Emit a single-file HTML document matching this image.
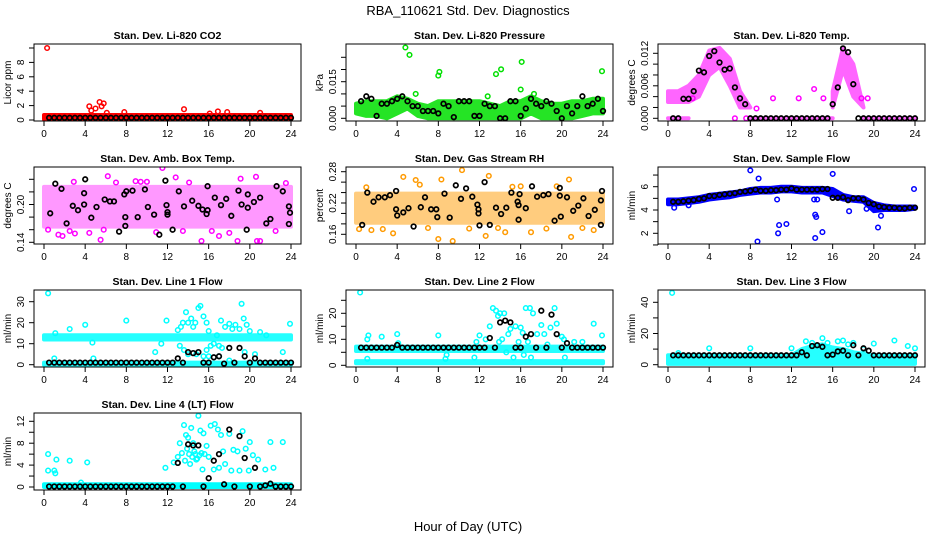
<!DOCTYPE html>
<html><head><meta charset="utf-8"><style>
html,body{margin:0;padding:0;background:#fff;}
svg{display:block;font-family:"Liberation Sans",sans-serif;}
</style></head><body>
<svg id="chart" width="936" height="540" viewBox="0 0 936 540" xmlns="http://www.w3.org/2000/svg">
<rect width="936" height="540" fill="#fff"/>
<text x="468" y="15" text-anchor="middle" font-size="13">RBA_110621  Std. Dev. Diagnostics</text>
<text x="468" y="531" text-anchor="middle" font-size="13">Hour of Day (UTC)</text>
</svg>
<script>
const hours=[0,1,2,3,4,5,6,7,8,9,10,11,12,13,14,15,16,17,18,19,20,21,22,23,24];
const halfHours=[0.5,1,1.5,2,2.5,3,3.5,4,4.5,5,5.5,6,6.5,7,7.5,8,8.5,9,9.5,10,10.5,11,11.5,12,12.5,13,13.5,14,14.5,15,15.5,16,16.5,17,17.5,18,18.5,19,19.5,20,20.5,21,21.5,22,22.5,23,23.5,24];
const xTicks=[0,4,8,12,16,20,24];

// CO2
const co2Lo=[0.1,0.1,0.1,0.1,0.1,0.1,0.1,0.1,0.1,0.1,0.1,0.1,0.1,0.1,0.1,0.1,0.1,0.1,0.1,0.1,0.1,0.1,0.1,0.1,0.1];
const co2Hi=[0.7,0.7,0.7,0.7,0.7,0.7,0.7,0.7,0.7,0.7,0.7,0.7,0.7,0.7,0.7,0.7,0.7,0.7,0.7,0.7,0.7,0.7,0.7,0.7,0.7];
const co2OutX=[0.3,4.4,4.6,5.0,5.4,5.6,5.8,6.1,7.8,13.6,16.1,16.9,17.8,21.0];
const co2OutY=[10,1.9,1.3,1.6,2.5,1.9,2.3,1.0,1.1,1.5,0.9,1.2,1.1,1.0];
const co2Black=[0.3,0.3,0.3,0.3,0.3,0.3,0.3,0.3,0.3,0.3,0.3,0.3,0.3,0.3,0.3,0.3,0.3,0.3,0.3,0.3,0.3,0.3,0.3,0.3,0.3,0.3,0.3,0.3,0.3,0.3,0.3,0.3,0.3,0.3,0.3,0.3,0.3,0.3,0.3,0.3,0.3,0.3,0.3,0.3,0.3,0.3,0.3,0.3];

// Pressure
const presLo=[0.002,0.001,0.001,0.000,0.002,0.004,0.001,0.000,0.000,0.000,0.000,0.000,0.000,0.000,0.000,0.000,0.000,0.002,0.000,0.000,0.000,0.000,0.001,0.002,0.002];
const presHi=[0.006,0.007,0.007,0.007,0.009,0.008,0.006,0.005,0.007,0.007,0.007,0.007,0.007,0.006,0.005,0.007,0.007,0.009,0.007,0.006,0.006,0.007,0.007,0.008,0.008];
const presOutX=[4.8,5.2,8.0,8.1,13.6,14.1,16.1,16.0,23.9,5.8,17.3,12.8];
const presOutY=[0.029,0.026,0.0175,0.019,0.0181,0.0201,0.0231,0.0118,0.0193,0.010,0.010,0.009];
const presBlack=[0.007,0.009,0.008,0.001,0.006,0.006,0.007,0.008,0.009,0.007,0.005,0.005,0.003,0.003,0.003,0.002,0.006,0.005,0.0005,0.007,0.007,0.007,0.001,0.001,0.006,0.005,0.005,0,0,0.007,0.007,0.001,0.004,0.008,0.006,0.005,0.007,0.006,0.003,0,0.005,0.002,0.005,0.009,0.005,0.006,0.008,0.003];

// Temp
const tempLo=[0.003,0.003,0.003,0.004,0.008,0.0095,0.006,0.002,0.002,null,null,null,null,null,null,null,0.002,0.009,0.004,0.002,null,null,null,null,null];
const tempHi=[0.005,0.005,0.006,0.008,0.0125,0.013,0.011,0.005,0.002,null,null,null,null,null,null,null,0.005,0.013,0.010,0.002,null,null,null,null,null];
const tempZeroLo=[0,0,0,null,null,null,null,null,0,0,0,0,0,0,0,0,0,null,null,0,0,0,0,0,0];
const tempZeroHi=[0,0,0,null,null,null,null,null,0,0,0,0,0,0,0,0,0,null,null,0,0,0,0,0,0];
const tempOutX=[6.5,7.6,10.2,12.7,14.2,15.1,8.6,2.4,18.8,19.4];
const tempOutY=[0,0,0.0037,0.0037,0.0054,0.0037,0.0018,0.0037,0.0037,0.0037];
const tempBlack=[0,0,0.0036,0.0036,0.005,0.0088,0.0085,0.0115,0.0124,0.0103,0.009,0.0092,0.0057,0.0037,0.0026,0,0,0,0,0,0,0,0,0,0,0,0,0,0,0,0,0.0026,0.0057,0.0129,0.0122,0.0063,0,0,0,0,0,0,0,0,0,0,0,0];

// Amb box temp
const ambLo=[0.165,0.165,0.165,0.165,0.165,0.165,0.165,0.165,0.165,0.165,0.165,0.165,0.165,0.165,0.165,0.165,0.165,0.165,0.165,0.165,0.165,0.165,0.165,0.165,0.165];
const ambHi=[0.228,0.228,0.228,0.228,0.228,0.228,0.228,0.228,0.228,0.228,0.228,0.228,0.228,0.228,0.228,0.228,0.228,0.228,0.228,0.228,0.228,0.228,0.228,0.228,0.228];
const ambOutX=[11.5,6.2,20.6,12.8,19.1,1.4,5.5,15.3,18.8,20.7,21.0,1.8,3.0,10.9,17.0,2.9,8.9,14.1,9.4,4.4,0.4,2.5,7.0,13.5,16.3,22.5,23.5,5.8,18.0,10.0];
const ambOutY=[0.258,0.245,0.244,0.243,0.241,0.152,0.144,0.142,0.142,0.142,0.142,0.15,0.154,0.156,0.15,0.236,0.237,0.235,0.236,0.155,0.16,0.158,0.235,0.158,0.158,0.158,0.234,0.16,0.155,0.236];
const ambBlackX=[0.6,1.1,1.7,2.2,2.8,3.3,3.9,3.9,4.0,4.6,5.1,5.9,6.4,6.8,7.3,7.8,7.9,7.9,8.0,8.6,9.1,9.8,10.1,10.7,11.2,11.8,11.9,12,12.0,12.5,13.1,13.6,14.4,15.0,15.4,15.8,15.9,15.9,16.6,17.2,17.7,18.2,18.9,19.2,19.7,19.8,19.8,20.4,21.0,21.6,22.0,22.6,23.2,23.8,23.8,23.9];
const ambBlackY=[0.186,0.233,0.225,0.17,0.198,0.191,0.218,0.2,0.24,0.179,0.196,0.208,0.205,0.205,0.157,0.216,0.166,0.18,0.221,0.222,0.18,0.224,0.196,0.184,0.152,0.238,0.199,0.188,0.184,0.16,0.221,0.197,0.206,0.198,0.192,0.185,0.191,0.229,0.211,0.199,0.209,0.182,0.222,0.2,0.16,0.195,0.216,0.204,0.211,0.17,0.177,0.229,0.221,0.169,0.197,0.187];

// RH
const rhLo=[0.182,0.182,0.182,0.182,0.182,0.182,0.182,0.182,0.182,0.182,0.182,0.182,0.182,0.182,0.182,0.182,0.182,0.182,0.182,0.182,0.182,0.182,0.182,0.182,0.182];
const rhHi=[0.238,0.238,0.238,0.238,0.238,0.238,0.238,0.238,0.238,0.238,0.238,0.238,0.238,0.238,0.238,0.238,0.238,0.238,0.238,0.238,0.238,0.238,0.238,0.238,0.238];
const rhOutX=[10.3,4.6,12.9,9.4,8.0,12.6,20.9,17.0,5.8,20.7,8.3,3.6,1.5,14.5,23.1,1.0,6.2,16.0,0.3,2.6,7.0,11.0,13.8,18.5,22.0,19.5,15.2];
const rhOutY=[0.283,0.27,0.272,0.147,0.151,0.157,0.155,0.164,0.264,0.265,0.265,0.162,0.168,0.164,0.168,0.25,0.255,0.252,0.17,0.17,0.172,0.171,0.172,0.171,0.172,0.252,0.251];
const rhBlackX=[0.6,1.1,1.7,2.2,2.8,3.3,3.9,3.9,4.0,4.6,5.1,5.6,6.3,6.7,7.3,7.8,7.9,8.6,9.1,9.7,10.2,10.7,11.3,11.8,11.9,11.9,12,12.5,13.0,13.6,14.1,14.6,15.1,15.7,15.8,15.8,15.9,16.5,17.1,17.6,18.2,18.7,19.3,19.8,19.8,19.9,20.5,21.1,21.6,22.1,22.6,23.2,23.8,23.8,23.9];
const rhBlackY=[0.178,0.240,0.2225,0.231,0.231,0.235,0.243,0.208,0.196,0.202,0.21,0.175,0.212,0.231,0.208,0.208,0.193,0.238,0.192,0.254,0.228,0.248,0.232,0.217,0.208,0.2,0.177,0.26,0.178,0.211,0.199,0.211,0.24,0.2225,0.216,0.188,0.237,0.21,0.252,0.232,0.235,0.237,0.186,0.249,0.234,0.194,0.231,0.205,0.215,0.229,0.195,0.207,0.178,0.225,0.243];

// Sample flow
const flowLo=[4.5,4.5,4.6,4.7,4.9,5.0,5.1,5.3,5.4,5.5,5.5,5.6,5.6,5.5,5.5,5.5,5.2,4.9,4.8,4.7,3.9,4.0,4.0,4.0,4.1];
const flowHi=[4.9,4.9,5.0,5.1,5.3,5.4,5.5,5.6,5.8,5.9,5.9,6.0,6.0,5.9,5.9,5.9,5.8,5.3,5.1,5.1,4.6,4.4,4.3,4.3,4.3];
const flowOutX=[8.0,8.7,8.8,10.7,10.8,11.5,14.3,14.4,14.3,15.0,16.0,17.6,19.3,20.4,20.7,23.9,10.6,14.2,14.5,0.6,2.0];
const flowOutY=[7.4,1.3,6.7,2.0,2.7,2.8,3.6,3.4,1.6,2.1,7.1,3.9,4.1,2.5,3.5,5.8,4.9,4.9,4.9,4.2,4.4];
const flowBlack=[4.7,4.7,4.75,4.8,4.85,4.95,5.0,5.2,5.2,5.3,5.35,5.4,5.45,5.55,5.6,5.65,5.75,5.65,5.65,5.7,5.7,5.75,5.75,5.85,5.75,5.75,5.75,5.75,5.75,5.8,5.8,5.05,5.05,5.1,4.85,5.0,5.0,4.9,4.6,4.5,4.3,4.25,4.2,4.2,4.15,4.15,4.2,4.2];

// Line 1
const l1ALo=[12,12,12,12,12,12,12,12,12,12,12,12,12,12,12,12,12,12,12,12,12,12,12,12,12];
const l1AHi=[14,14,14,14,14,14,14,14,14,14,14,14,14,14,14,14,14,14,14,14,14,14,14,14,14];
const l1BLo=[0,0,0,0,0,0,0,0,0,0,0,0,0,0,0,0,0,0,0,0,0,0,0,0,0];
const l1BHi=[1,1,1,1,1,1,1,1,1,1,1,1,1,1,1,1,1,1,1,1,1,1,1,1,1];
const l1OutX=[0.4,1.1,2.5,4.0,4.7,8.0,11.9,10.8,11.4,13.0,13.3,13.5,13.8,14.0,14.3,14.5,14.7,15.0,15.2,15.5,15.8,16.0,16.5,16.8,17.0,17.2,17.6,18.0,18.3,18.6,19.0,19.2,19.4,19.7,20.0,21.0,21.6,23.2,23.9,13.2,13.6,14.0,14.8,15.5,16.0,17.0,18.0,19.5,20.5,15.8,16.2,17.3,1.0,4.8];
const l1OutY=[34,15,17,19,10.5,21,21,6,10,16.5,18,20,25,20,22,18,20,27,28,23,20,16,10,14,9,21,18,19.5,17,19,17,29,22,19,16,15.5,14,6,19.5,9,7,5,5,4,4,4,2,6,5,7,9,8,3,3];
const l1Black=[1,1,1,1,1,1,1,1,1,1,1,1,1,1,1,1,1,1,1,1,1,1,1,1,1,3,1,6,5.5,6,1,1,3.5,4,0.5,8,1,8,4,1,3,1,1,1,1,1,1,1];

// Line 2
const l2ALo=[5.5,5.5,5.5,5.5,5.5,5.5,5.5,5.5,5.5,5.5,5.5,5.5,5.5,5.5,5.5,5.5,5.5,5.5,5.5,5.5,5.5,5.5,5.5,5.5,5.5];
const l2AHi=[7.2,7.2,7.2,7.2,7.2,7.2,7.2,7.2,7.2,7.2,7.2,7.2,7.2,7.2,7.2,7.2,7.2,7.2,7.2,7.2,7.2,7.2,7.2,7.2,7.2];
const l2BLo=[0.8,0.8,0.8,0.8,0.8,0.8,0.8,0.8,0.8,0.8,0.8,0.8,0.8,0.8,0.8,0.8,0.8,0.8,0.8,0.8,0.8,0.8,0.8,0.8,0.8];
const l2BHi=[1.6,1.6,1.6,1.6,1.6,1.6,1.6,1.6,1.6,1.6,1.6,1.6,1.6,1.6,1.6,1.6,1.6,1.6,1.6,1.6,1.6,1.6,1.6,1.6,1.6];
const l2OutX=[0.4,1.1,1.2,1.1,2.5,4.0,4.1,8.0,8.8,8.7,11.5,11.7,12.0,12.6,13.0,13.3,13.6,13.8,14.0,14.2,14.4,14.8,15.0,15.5,15.8,16.0,16.2,16.5,16.9,17.2,17.6,18.0,18.3,18.9,19.3,19.5,20.0,20.2,21.2,22.0,23.1,23.9,14.6,15.3,16.3,17.0,20.3,13.9,16.7,18.6];
const l2OutY=[28,10,11.5,2.5,11,12,8.5,11.5,4,2.5,3,9,11.5,10,15,22,21,19,20,10,20,12,14,15,9,14.5,12.5,22,22,20,12,15.5,12,14.5,22,16,11,10,9,9,16,11.5,5,3,4,3,3,9,9,8];
const l2Black=[6.8,6.8,6.8,6.8,6.8,6.8,6.8,7.8,6.8,6.8,6.8,6.8,6.8,6.8,6.8,6.8,6.8,6.8,6.8,6.8,6.8,6.8,6.8,6.8,6.8,10.5,6.8,16.5,17.2,16.5,6.8,6.8,11,12,6.8,21,6.8,19.5,12,6.8,8.5,6.8,6.8,6.8,6.8,6.8,6.8,6.8];

// Line 3
const l3Lo=[0.5,0.5,0.5,0.5,0.5,0.5,0.5,0.5,0.5,0.5,0.5,0.5,0.5,0.5,0.5,0.5,0.5,0.5,0.5,0.5,0.5,0.5,0.5,0.5,0.5];
const l3Hi=[6,6,6,6,6,6,6,6,6,6,6,6,6,10,12,13,11,10,8,7,6,6,6,6,6];
const l3OutX=[0.4,1.0,4.0,8.0,12.0,13.4,14.0,15.0,15.5,16.5,17.0,17.5,18.0,19.0,20.0,22.0,23.3,24.0];
const l3OutY=[46,7.5,10.5,10.5,10.5,15,14,17,14,15,15.5,13,14,10,13.5,15.5,12,10.5];
const l3Black=[6,6,6,6,6,6,6,6,6,6,6,6,6,6,6,6,6,6,6,6,6,6,6,6,6,8,6,12,12.5,11.5,6,6.5,8.5,9,6,12.5,6,10.5,9,6,6,6,6,6,6,6,6,6];

// Line 4
const l4ALo=[0,0,0,0,0,0,0,0,0,0,0,0,0,0,0,0,0,0,0,0,0,0,0,0,0];
const l4AHi=[0.5,0.5,0.5,0.5,0.5,0.5,0.5,0.5,0.5,0.5,0.5,0.5,0.5,0.5,0.5,0.5,0.5,0.5,0.5,0.5,0.5,0.5,0.5,0.5,0.5];
const l4OutX=[0.4,0.4,1.0,1.1,1.2,2.5,4.2,3.6,11.8,12.6,13.0,13.2,13.4,13.6,13.8,14.0,14.3,14.5,14.7,15.0,15.2,15.5,15.8,16.2,16.6,16.9,17.2,17.0,16.5,17.6,18.0,18.4,18.8,19.3,19.6,20.0,20.3,20.8,21.5,22.0,22.3,23.2,15.4,14.2,19.0,13.9,14.1,14.4,14.6,14.8,15.1,15.3,13.7,14.9,15.6,16.0,17.4,18.2,19.9];
const l4OutY=[6,3,3,2.5,5,4.8,4.5,0.8,3.5,4.5,5.5,8,6.2,11.3,9.5,9,10.8,8,6,13,10.3,9.8,7.5,11.2,11.5,10.5,9.5,3.5,3.2,4.2,9.7,6.8,6.5,10.2,7,8.2,5.8,5,3.2,8.2,3.5,8.2,3.2,4.2,3,7,6,5.5,6.5,5,5.8,6.2,4.8,5.2,6,5.5,6.5,3,3];
const l4Black=[0.1,0.1,0.1,0.1,0.1,0.1,0.1,0.1,0.1,0.1,0.1,0.1,0.1,0.1,0.1,0.1,0.1,0.1,0.1,0.1,0.1,0.1,0.1,0.1,0.1,4.4,0.1,7.8,7.6,7.6,0.1,1.6,4.8,6,0.5,10.5,0.1,9.3,5.3,0.1,3.5,0.1,0.3,0.6,0.1,0.1,0.1,0.1];

const NS="http://www.w3.org/2000/svg";
const svg=document.getElementById('chart');
function mk(tag,attrs,parent){const e=document.createElementNS(NS,tag);for(const k in attrs)e.setAttribute(k,attrs[k]);(parent||svg).appendChild(e);return e;}

const colLeft=[34,346,658], rowTop=[44,167,290,413], boxW=267, boxH=77;

const panels=[
 {name:'co2',title:'Stan. Dev. Li-820 CO2',ylab:'Licor ppm',col:0,row:0,anchor:[0,120,10,48],ticks:[0,2,4,6,8,10],labels:['0','2','4','6','8',''],color:'#ff0000',bands:[[co2Lo,co2Hi]],outX:co2OutX,outY:co2OutY,bX:halfHours,bY:co2Black},
 {name:'pressure',title:'Stan. Dev. Li-820 Pressure',ylab:'kPa',col:1,row:0,anchor:[0,118.3,0.025,57.3],ticks:[0,0.005,0.01,0.015,0.02,0.025],labels:['0.000','','','0.015','',''],color:'#00e000',bandOpacity:0.85,bands:[[presLo,presHi]],outX:presOutX,outY:presOutY,bX:halfHours,bY:presBlack},
 {name:'temp',title:'Stan. Dev. Li-820 Temp.',ylab:'degrees C',col:2,row:0,anchor:[0,118.3,0.012,53.3],ticks:[0,0.002,0.004,0.006,0.008,0.01,0.012],labels:['0.000','','','0.006','','','0.012'],color:'#ff00ff',bandOpacity:0.6,bands:[[tempLo,tempHi],[tempZeroLo,tempZeroHi]],outX:tempOutX,outY:tempOutY,bX:halfHours,bY:tempBlack},
 {name:'amb-box',title:'Stan. Dev. Amb. Box Temp.',ylab:'degrees C',col:0,row:1,anchor:[0.14,242.3,0.24,179.3],ticks:[0.14,0.16,0.18,0.2,0.22,0.24],labels:['0.14','','','0.20','',''],color:'#ff00ff',bandOpacity:0.4,bands:[[ambLo,ambHi]],outX:ambOutX,outY:ambOutY,bX:ambBlackX,bY:ambBlackY},
 {name:'rh',title:'Stan. Dev. Gas Stream RH',ylab:'percent',col:1,row:1,anchor:[0.16,234.3,0.28,171.7],ticks:[0.16,0.18,0.2,0.22,0.24,0.26,0.28],labels:['0.16','','','0.22','','','0.28'],color:'#ff9a00',bandOpacity:0.5,bands:[[rhLo,rhHi]],outX:rhOutX,outY:rhOutY,bX:rhBlackX,bY:rhBlackY},
 {name:'sample-flow',title:'Stan. Dev. Sample Flow',ylab:'ml/min',col:2,row:1,anchor:[2,233.3,6,186.7],ticks:[1,2,3,4,5,6,7],labels:['','2','','4','','6',''],color:'#0000ff',bands:[[flowLo,flowHi]],outX:flowOutX,outY:flowOutY,bX:halfHours,bY:flowBlack},
 {name:'line1',title:'Stan. Dev. Line 1 Flow',ylab:'ml/min',col:0,row:2,anchor:[0,364.7,30,301.7],ticks:[0,10,20,30],labels:['0','10','20','30'],color:'#00ffff',bandOpacity:0.85,bands:[[l1ALo,l1AHi],[l1BLo,l1BHi]],outX:l1OutX,outY:l1OutY,bX:halfHours,bY:l1Black},
 {name:'line2',title:'Stan. Dev. Line 2 Flow',ylab:'ml/min',col:1,row:2,anchor:[0,365.3,20,313.3],ticks:[0,5,10,15,20,25],labels:['0','','10','','20',''],color:'#00ffff',bandOpacity:0.85,bands:[[l2ALo,l2AHi],[l2BLo,l2BHi]],outX:l2OutX,outY:l2OutY,bX:halfHours,bY:l2Black},
 {name:'line3',title:'Stan. Dev. Line 3 Flow',ylab:'ml/min',col:2,row:2,anchor:[0,364.7,40,302.3],ticks:[0,10,20,30,40],labels:['0','','20','','40'],color:'#00ffff',bandOpacity:0.85,bands:[[l3Lo,l3Hi]],outX:l3OutX,outY:l3OutY,bX:halfHours,bY:l3Black},
 {name:'line4',title:'Stan. Dev. Line 4 (LT) Flow',ylab:'ml/min',col:0,row:3,anchor:[0,487,12,421.3],ticks:[0,2,4,6,8,10,12],labels:['0','','4','','8','','12'],color:'#00ffff',bands:[[l4ALo,l4AHi]],outX:l4OutX,outY:l4OutY,bX:halfHours,bY:l4Black}
];

function circle(g,cx,cy,color,w){
  return mk('circle',{cx:cx.toFixed(1),cy:cy.toFixed(1),r:2.3,fill:'none',stroke:color,'stroke-width':w},g);
}

panels.forEach(p=>{
  const L=colLeft[p.col], T=rowTop[p.row], B=T+boxH;
  const xs=h=>L+10+h/24*247;
  const [v0,y0,v1,y1]=p.anchor;
  const ys=v=>y0+(v-v0)*(y1-y0)/(v1-v0);
  const g=mk('g',{});
  
  
  const clipId='clip-'+p.name;
  const cp=mk('clipPath',{id:clipId},g);
  mk('rect',{x:L,y:T,width:boxW,height:boxH},cp);
  const plot=mk('g',{'clip-path':'url(#'+clipId+')'},g);
  
  
  const op=p.bandOpacity||1;
  p.bands.forEach(bd=>{
    const lo=bd[0],hi=bd[1];
    let run=[];
    const flush=()=>{
      if(run.length>=2){
        const pts=run.map(i=>xs(hours[i]).toFixed(1)+','+ys(hi[i]).toFixed(1)).concat(run.slice().reverse().map(i=>xs(hours[i]).toFixed(1)+','+ys(lo[i]).toFixed(1)));
        const bg=mk('g',{opacity:op},plot);
        const pg=mk('polygon',{points:pts.join(' '),fill:p.color,stroke:p.color,'stroke-width':4,'stroke-linejoin':'round'},bg);
        
        
      }
      run=[];
    };
    hours.forEach((h,i)=>{if(lo[i]===null||hi[i]===null)flush();else run.push(i);});
    flush();
  });
  p.outX.forEach((x,i)=>{
    const c=circle(plot,xs(x),ys(p.outY[i]),p.color,1.5);
    
    
  });
  p.bX.forEach((x,i)=>{
    const c=circle(plot,xs(x),ys(p.bY[i]),'#000',1.7);
    
    
  });
  const box=mk('rect',{x:L,y:T,width:boxW,height:boxH,fill:'none',stroke:'#000','stroke-width':1},g);
  
  
  const t=mk('text',{x:L+boxW/2,y:T-5,'text-anchor':'middle','font-size':10.5,'font-weight':'bold'},g);
  t.textContent=p.title;
  
  
  const yl=mk('text',{transform:'translate('+(L-23)+','+(T+boxH/2)+') rotate(-90)','text-anchor':'middle','font-size':10},g);
  yl.textContent=p.ylab;
  
  
  const xa=mk('g',{},g);
  
  
  mk('line',{x1:xs(0),x2:xs(24),y1:B,y2:B,stroke:'#000'},xa);
  xTicks.forEach(h=>{
    mk('line',{x1:xs(h),x2:xs(h),y1:B,y2:B+5,stroke:'#000'},xa);
    const tl=mk('text',{x:xs(h),y:B+16,'text-anchor':'middle','font-size':10},xa);
    tl.textContent=String(h);
    
    
  });
  const ya=mk('g',{},g);
  
  
  const tf=p.ticks[0], tl2=p.ticks[p.ticks.length-1];
  mk('line',{x1:L,x2:L,y1:ys(tf),y2:ys(tl2),stroke:'#000'},ya);
  p.ticks.forEach((v,i)=>{
    const y=ys(v);
    mk('line',{x1:L-5,x2:L,y1:y,y2:y,stroke:'#000'},ya);
    if(p.labels[i]){
      const lt=mk('text',{transform:'translate('+(L-10)+','+y.toFixed(1)+') rotate(-90)','text-anchor':'middle','font-size':10},ya);
      lt.textContent=p.labels[i];
      
      
    }
  });
});
</script>
</body></html>
